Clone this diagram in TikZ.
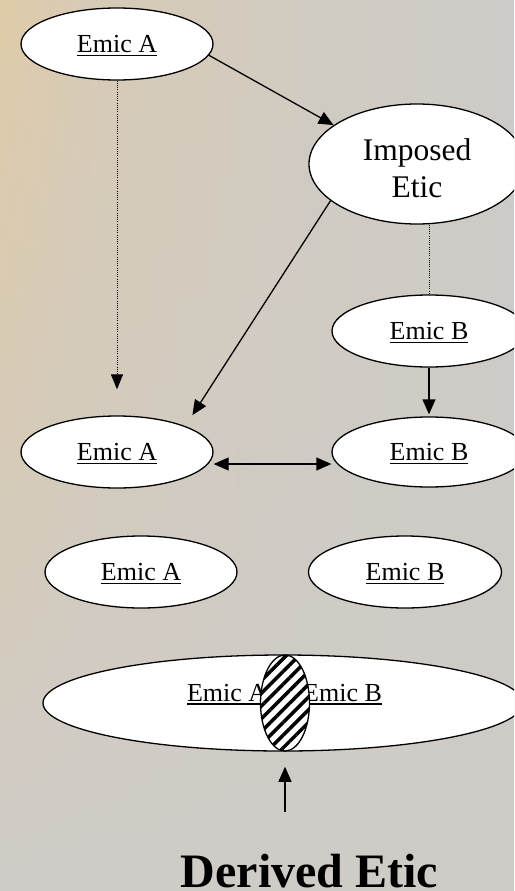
\documentclass[tikz,border=0pt]{standalone}
\usepackage{fontspec}
\setmainfont{Liberation Serif}
\usetikzlibrary{shapes.geometric,arrows.meta,patterns.meta,fadings}
\definecolor{bgtan}{RGB}{223,203,168}
\definecolor{bgmid}{RGB}{217,203,181}
\definecolor{bgmidb}{RGB}{210,203,192}
\definecolor{bggray}{RGB}{205,203,200}
\definecolor{bgbot}{RGB}{207,204,199}
\pgfdeclarehorizontalshading{bgsh}{100bp}{color(0bp)=(bgtan); color(25bp)=(bgtan); color(33bp)=(bgmid); color(52bp)=(bgmidb); color(75bp)=(bggray); color(100bp)=(bggray)}
\tikzfading[name=bgfade, top color=transparent!100, middle color=transparent!85, bottom color=transparent!0]
\newcommand\ulx[1]{\setbox0=\hbox{#1}\rlap{\rule[-3.5pt]{\wd0}{1.5pt}}\box0}
\begin{document}
\begin{tikzpicture}[x=1pt,y=-1pt,
  oval/.style={ellipse, draw, line width=1.3pt, fill=white, inner sep=0pt,
    minimum width=192pt, minimum height=72pt,
    font=\fontsize{26}{30}\selectfont, text depth=0pt},
  arr/.style={line width=1.3pt, -{Triangle[length=15pt,width=13pt]}},
  dots/.style={line width=1pt, dash pattern=on 1pt off 1.2pt},
]
\shade[shading=bgsh] (0,0) rectangle (514,891);
\fill[bgbot, path fading=bgfade] (0,0) rectangle (514,891);
\useasboundingbox (0,0) rectangle (514,891);
\clip (0,0) rectangle (514,891);

\node[oval] (ea1) at (117,44) {\ulx{Emic A}};
\node[oval, minimum width=216pt, minimum height=120pt,
  font=\fontsize{31.5}{37}\selectfont, align=center] (ie) at (417,164)
  {\rule{0pt}{29.5pt}Imposed\\Etic};
\node[oval, minimum width=194pt] (eb1) at (429,331) {\ulx{Emic B}};
\node[oval] (ea2) at (117,452) {\ulx{Emic A}};
\node[oval, minimum width=194pt, minimum height=70pt] (eb2) at (429,452) {\ulx{Emic B}};
\node[oval] (ea3) at (141,572) {\ulx{Emic A}};
\node[oval, minimum width=193pt] (eb3) at (405,572) {\ulx{Emic B}};

\node[oval, minimum width=480pt, minimum height=96pt] (big) at (283,703) {};
\node[font=\fontsize{26}{30}\selectfont, anchor=base, inner sep=0pt] (bigtxt) at (284.5,701)
  {\ulx{Emic A\hspace{36pt}Emic B}};
\node[ellipse, draw, line width=1.3pt, minimum width=49pt, minimum height=96pt, inner sep=0pt,
  preaction={fill=white},
  pattern={Lines[angle=45,distance=9pt,line width=3.5pt]}] (hatch) at (285,703) {};

\node[font=\bfseries\fontsize{48}{56}\selectfont, anchor=base] (de) at (309.5,887) {Derived Etic};

\draw[arr] (ea1.-7) -- (ie.155);
\draw[arr, shorten >=13pt] (ie.203) -- (ea2.north east);
\draw[dots, -{Triangle[length=15pt,width=12pt]}, shorten >=26pt] (ea1.south) -- (ea2.north);
\draw[dots] (eb1.north |- ie.south) -- (eb1.north);
\draw[arr, shorten >=2pt] (eb1.south) -- (eb2.north);
\draw[line width=1.3pt, {Triangle[length=15pt,width=13pt]}-{Triangle[length=15pt,width=13pt]}]
  ([yshift=-12pt]ea2.east) -- ([yshift=-12pt]eb2.west);
\draw[arr, shorten <=38pt, shorten >=14pt] (de.north -| hatch.south) -- (hatch.south);
\end{tikzpicture}
\end{document}
